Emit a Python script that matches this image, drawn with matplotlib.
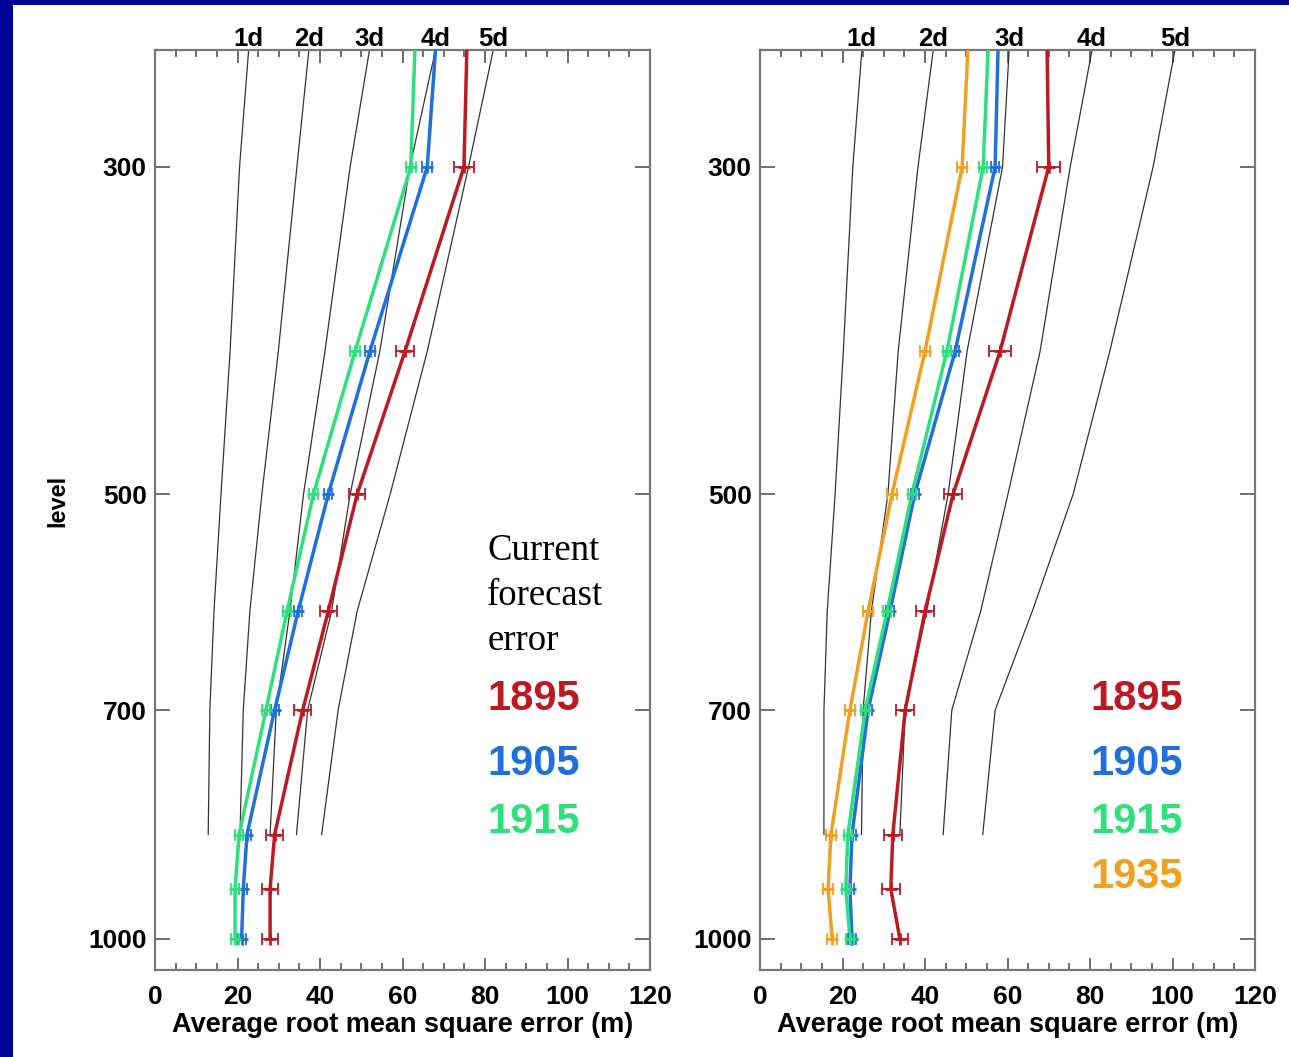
import numpy as np
import matplotlib.pyplot as plt
from matplotlib.patches import Rectangle
from matplotlib.ticker import MultipleLocator, FixedLocator, NullLocator

# pressure levels (hPa)
levels = [250, 300, 400, 500, 600, 700, 850, 925, 1000]
ref_levels = [250, 300, 400, 500, 600, 700, 850]
day_names = ["1d", "2d", "3d", "4d", "5d"]

# current forecast error for 1..5 day lead (thin black lines)
left_days = [
    [22.7, 20.5, 18.2, 16.0, 14.3, 13.3, 12.9],
    [37.3, 34.4, 29.9, 25.9, 23.0, 21.4, 20.6],
    [52.0, 47.3, 41.2, 36.0, 32.7, 29.4, 27.9],
    [68.0, 61.8, 54.5, 47.3, 42.8, 37.0, 34.3],
    [82.0, 76.0, 66.0, 57.0, 49.0, 44.4, 40.4],
]
right_days = [
    [24.7, 22.5, 20.2, 18.2, 16.3, 15.5, 15.5],
    [42.0, 38.3, 33.5, 31.0, 27.0, 25.0, 24.6],
    [60.4, 58.8, 50.2, 45.6, 40.4, 35.2, 33.9],
    [80.5, 75.2, 67.9, 60.1, 53.5, 46.5, 44.4],
    [100.6, 95.3, 84.8, 75.9, 66.0, 57.0, 54.0],
]

# reanalysis rms error by year, left panel
left_1895 = [75.6, 74.9, 60.6, 49.0, 42.0, 35.8, 29.0, 27.9, 27.9]
left_1905 = [68.0, 66.0, 52.1, 42.0, 34.7, 29.0, 22.3, 21.4, 21.0]
left_1915 = [63.0, 62.0, 48.5, 38.4, 32.0, 26.9, 20.4, 19.4, 19.4]
left_err_1895 = [2.5, 2.2, 2.0, 2.0, 2.0, 2.0, 2.0, 2.0]
left_err_1905 = [1.2, 1.2, 1.0, 1.0, 1.0, 1.0, 1.0, 1.0]
left_err_1915 = [1.2, 1.2, 1.0, 1.0, 1.0, 1.0, 1.0, 1.0]

# right panel
right_1895 = [69.6, 70.0, 58.2, 46.8, 40.0, 35.2, 32.2, 31.7, 33.9]
right_1905 = [57.7, 57.0, 47.3, 37.5, 31.5, 26.2, 22.3, 21.8, 22.3]
right_1915 = [55.3, 54.1, 45.3, 36.8, 30.8, 25.5, 21.3, 20.8, 21.8]
right_1935 = [50.4, 49.0, 40.0, 32.0, 26.2, 21.8, 17.2, 16.5, 17.5]
right_err_1895 = [2.8, 2.6, 2.2, 2.2, 2.2, 2.2, 2.2, 1.9]
right_err_1905 = [1.0, 1.0, 1.0, 1.0, 1.0, 1.0, 1.0, 1.0]
right_err_1915 = [1.0, 1.0, 1.0, 1.0, 1.0, 1.0, 1.0, 1.0]
right_err_1935 = [1.3, 1.3, 1.2, 1.2, 1.2, 1.2, 1.2, 1.2]

c_1895 = "#bb1a22"
c_1905 = "#1f6fdc"
c_1915 = "#2ee07c"
c_1935 = "#f0a020"

font = "Liberation Sans"

fig = plt.figure(figsize=(12.89, 10.57), dpi=100)
fig.patch.set_facecolor("white")
# dark blue slide border on the left and top
for rect in [(0, 0, 13 / 1289, 1), (0, 1 - 5 / 1057, 1, 5 / 1057)]:
    fig.patches.append(Rectangle(rect[:2], rect[2], rect[3],
                                 transform=fig.transFigure, facecolor="#000099",
                                 edgecolor="none"))

ax1 = fig.add_axes([155 / 1289, 1 - 970 / 1057, 495 / 1289, 920 / 1057])
ax2 = fig.add_axes([760 / 1289, 1 - 970 / 1057, 495 / 1289, 920 / 1057])


def setup(ax, days):
    ax.set_yscale("log")
    ax.set_ylim(1050, 250)
    ax.set_xlim(0, 120)
    ax.yaxis.set_major_locator(FixedLocator([300, 500, 700, 1000]))
    ax.yaxis.set_minor_locator(NullLocator())
    ax.set_yticklabels(["300", "500", "700", "1000"])
    ax.xaxis.set_major_locator(MultipleLocator(20))
    ax.xaxis.set_minor_locator(MultipleLocator(5))
    ax.tick_params(axis="both", which="both", direction="in",
                   top=True, right=True, color="#555555", width=1.2)
    ax.tick_params(axis="x", which="major", length=9, pad=11)
    ax.tick_params(axis="x", which="minor", length=5)
    ax.tick_params(axis="y", which="major", length=11, pad=6)
    for lab in ax.get_xticklabels() + ax.get_yticklabels():
        lab.set_fontsize(19)
        lab.set_fontweight("bold")
        lab.set_family(font)
    for s in ax.spines.values():
        s.set_color("#777777")
        s.set_linewidth(1.6)
    ax.set_xlabel("Average root mean square error (m)", fontsize=19.5,
                  fontweight="bold", family=font, labelpad=2)
    for name, vals in zip(day_names, days):
        ax.plot(vals, ref_levels, color="#333333", lw=0.9, zorder=2)
        ax.text(vals[0], 1.0045, name, transform=ax.get_xaxis_transform(),
                ha="center", va="baseline", fontsize=18.5, fontweight="bold",
                family=font)


def series(ax, vals, err, color):
    ax.plot(vals, levels, color=color, lw=2.5, zorder=3)
    ax.errorbar(vals[1:], levels[1:], xerr=err, fmt="none", ecolor=color,
                elinewidth=1.3, capsize=4, capthick=1.3, zorder=4)
    ax.plot(vals[1:], levels[1:], ls="none", marker="+", ms=8, mew=2,
            color=color, zorder=4)


setup(ax1, left_days)
setup(ax2, right_days)

series(ax1, left_1895, left_err_1895, c_1895)
series(ax1, left_1905, left_err_1905, c_1905)
series(ax1, left_1915, left_err_1915, c_1915)

series(ax2, right_1895, right_err_1895, c_1895)
series(ax2, right_1905, right_err_1905, c_1905)
series(ax2, right_1915, right_err_1915, c_1915)
series(ax2, right_1935, right_err_1935, c_1935)

ax1.set_ylabel("level", fontsize=17, fontweight="bold", family=font)
ax1.yaxis.set_label_coords(-0.172, 0.51)

# annotation text
for i, line in enumerate(["Current", "forecast", "error"]):
    ax1.text(0.671, (970 - 551 - 45 * i) / 920, line, transform=ax1.transAxes,
             ha="left", va="center", fontsize=26.5, family="Liberation Serif")

for ax, x0, names in [(ax1, 0.671, [("1895", c_1895), ("1905", c_1905), ("1915", c_1915)]),
                      (ax2, 0.667, [("1895", c_1895), ("1905", c_1905), ("1915", c_1915),
                                    ("1935", c_1935)])]:
    ys = [699, 764, 822, 877]
    for (name, col), yy in zip(names, ys):
        ax.text(x0, (970 - yy) / 920, name, transform=ax.transAxes,
                ha="left", va="center", fontsize=30, fontweight="bold",
                color=col, family=font)

fig.savefig("out.png", dpi=100)
